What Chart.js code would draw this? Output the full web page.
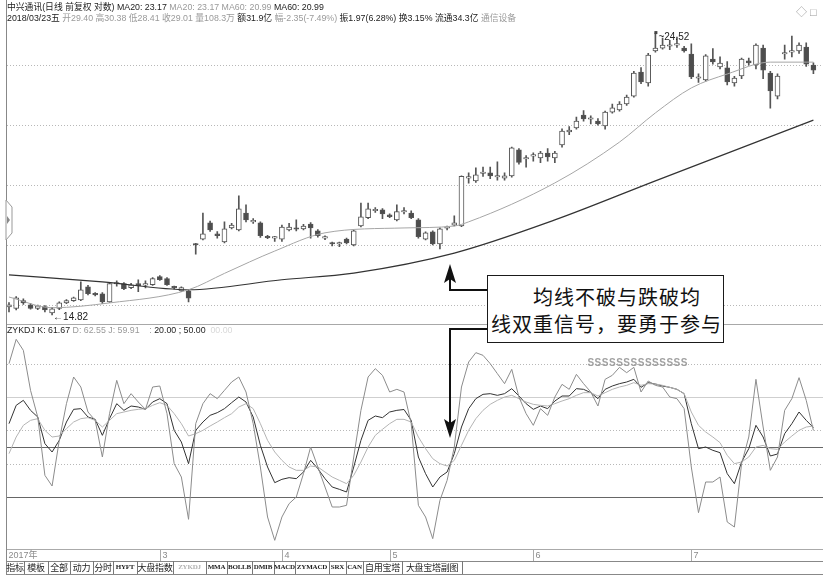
<!DOCTYPE html>
<html>
<head>
<meta charset="utf-8">
<script src="https://cdn.jsdelivr.net/npm/chart.js@4.4.0/dist/chart.umd.min.js"></script>
<style>
  body { margin: 0; background: #fff; width: 823px; height: 579px; overflow: hidden; position: relative;
         font-family: "Liberation Sans", "Noto Sans CJK SC", sans-serif; }
  canvas { position: absolute; left: 0; }
  .txt { position: absolute; white-space: nowrap; font-size: 8.8px; line-height: 11px; color: #222; }
  .g { color: #9a9a9a; }
  .f { color: #d8d8d8; }
  #note { position: absolute; left: 487px; top: 275px; width: 237px; height: 68px; box-sizing: border-box;
          border: 1.5px solid #1a1a1a; background: #fff; padding: 7px 0 0 3px;
          font-family: "Noto Sans CJK SC", sans-serif; font-size: 20px; line-height: 27px; letter-spacing: 1px; color: #111; }
  #note div:first-child { text-indent: 2.1em; }
  .hl { position: absolute; background: #a8a8a8; height: 1px; }
  .tb { position: absolute; top: 561px; height: 13px; border-right: 1px solid #777; box-sizing: border-box;
        white-space: nowrap; overflow: hidden; font-size: 9px; line-height: 13px; text-align: center; color: #222;
        font-family: "Noto Sans CJK SC", sans-serif; letter-spacing: -0.3px; }
  .tb.a { font-family: "Liberation Serif", serif; font-weight: bold; font-size: 7px; letter-spacing: -0.2px; }
</style>
</head>
<body>
<canvas id="price" width="823" height="326" style="top:0"></canvas>
<canvas id="kdj" width="823" height="236" style="top:326px"></canvas>

<div class="txt" style="left:7px;top:2px">中兴通讯(日线 前复权 对数) MA20: 23.17 <span class="g">MA20: 23.17 MA60: 20.99</span> MA60: 20.99</div>
<div class="txt" style="left:7px;top:13px">2018/03/23五 <span class="g">开29.40 高30.38 低28.41 收29.01 量108.3万</span> 额31.9亿 <span class="g">幅-2.35(-7.49%)</span> 振1.97(6.28%) 换3.15% 流通34.3亿 <span class="g">通信设备</span></div>
<div class="txt g" style="left:796px;top:7px;font-size:11px">◇ □</div>
<div class="txt" style="left:7px;top:325px">ZYKDJ K: 61.67 <span class="g">D: 62.55 J: 59.91</span> &nbsp; &nbsp;<span class="g">:</span> 20.00 ; 50.00 &nbsp;<span class="f">00.00</span></div>

<div class="hl" style="left:6px;top:324px;width:817px"></div>
<div class="hl" style="left:6px;top:561px;width:817px;background:#888"></div>
<div class="hl" style="left:6px;top:574px;width:817px;background:#888"></div>
<div style="position:absolute;left:6px;top:0;width:1px;height:575px;background:#888"></div>

<svg width="823" height="579" style="position:absolute;left:0;top:0;pointer-events:none">
  <polygon points="6,200 12,207 12,233 6,240" fill="#fff" stroke="#999" stroke-width="1"/>
  <polygon points="7,216 10,220 7,224" fill="#888"/>
  <polyline points="487,290 450,290 450,279" fill="none" stroke="#111" stroke-width="2"/>
  <polygon points="450,264 456,283 450,279 444,283" fill="#111"/>
  <polyline points="487,329 450,329 450,424" fill="none" stroke="#111" stroke-width="2"/>
  <polygon points="450,438 444,419 450,423 456,419" fill="#111"/>
</svg>

<div id="note"><div>均线不破与跌破均</div><div>线双重信号，要勇于参与</div></div>

<div id="toolbar"></div>

<script>
// ---- daily candles ----
const open = [15.03,14.99,15.20,15.09,14.99,15.04,14.87,14.99,15.14,15.20,15.22,15.58,15.37,15.39,15.17,15.66,15.67,15.56,15.67,15.63,
  15.64,15.87,15.81,15.56,15.47,15.47,16.82,16.97,17.47,17.13,16.88,17.31,17.25,17.78,17.50,17.47,17.05,17.00,16.97,17.25,
  17.30,17.28,17.43,17.22,17.00,16.85,16.82,16.97,16.79,17.37,17.63,17.85,17.88,17.72,17.56,17.81,17.78,17.56,16.97,17.19,
  16.82,17.30,17.40,17.37,18.92,18.83,19.08,19.10,18.96,18.92,19.00,19.90,19.58,19.68,19.62,19.79,19.62,20.08,20.55,20.70,
  21.18,21.02,20.95,20.77,21.29,21.37,21.60,21.91,22.87,22.43,23.75,23.87,23.95,24.00,23.87,23.62,22.62,22.55,23.41,23.08,
  23.04,22.43,22.71,23.33,23.16,23.87,22.83,21.91,23.62,23.70,23.75,23.91,23.16];
const high = [15.15,15.31,15.25,15.12,15.08,15.07,15.02,15.17,15.23,15.30,15.72,15.62,15.42,15.42,15.70,15.75,15.70,15.68,15.78,15.75,
  15.84,15.90,15.84,15.60,15.58,15.50,16.84,17.78,17.52,17.20,17.50,17.45,18.33,18.04,17.60,17.50,17.08,17.05,17.40,17.45,
  17.56,17.42,17.48,17.26,17.07,16.88,16.88,17.00,17.25,18.10,18.10,17.95,17.92,17.75,18.04,17.95,17.85,17.60,17.19,17.22,
  17.31,17.37,17.69,19.00,19.10,19.27,19.30,19.30,19.48,19.10,20.00,19.95,19.70,19.80,19.85,19.95,19.85,20.66,20.75,21.10,
  21.35,21.15,21.05,21.33,21.60,21.70,21.95,22.90,23.05,23.65,24.52,24.30,24.20,24.35,23.95,24.05,22.80,23.60,23.85,23.50,
  23.30,22.70,23.45,23.45,24.05,24.00,22.90,22.80,24.00,24.39,24.10,24.10,23.25];
const low = [14.90,14.95,15.10,14.97,14.96,14.90,14.82,14.96,15.12,15.18,15.20,15.36,15.33,15.12,15.15,15.60,15.50,15.53,15.45,15.55,
  15.62,15.76,15.62,15.52,15.45,15.17,16.52,16.94,17.20,17.00,16.85,17.28,17.22,17.50,17.45,17.02,16.98,16.90,16.90,17.22,
  17.22,17.25,17.00,17.03,16.95,16.76,16.74,16.82,16.76,17.34,17.60,17.80,17.60,17.63,17.53,17.75,17.60,17.00,16.94,16.79,
  16.67,17.25,17.37,17.35,18.75,18.78,18.98,18.90,18.85,18.85,18.95,19.40,19.30,19.50,19.45,19.50,19.45,20.00,20.45,20.65,
  20.95,20.85,20.80,20.65,21.25,21.33,21.55,21.87,22.40,22.30,23.70,23.82,23.80,23.90,23.70,22.60,22.45,22.50,23.20,23.00,
  22.35,22.30,22.60,23.15,23.00,22.60,21.44,21.80,23.40,23.50,23.65,23.10,22.80];
const close = [15.09,15.28,15.14,14.99,15.06,14.95,14.98,15.14,15.20,15.28,15.50,15.39,15.36,15.17,15.67,15.67,15.53,15.64,15.61,15.64,
  15.81,15.78,15.64,15.55,15.56,15.27,16.79,17.13,17.25,17.07,17.28,17.40,17.91,17.56,17.51,17.07,17.01,17.01,17.34,17.34,
  17.27,17.37,17.31,17.07,17.01,16.82,16.83,16.85,17.22,17.66,17.91,17.86,17.75,17.66,17.82,17.82,17.63,17.04,17.16,16.82,
  17.28,17.31,17.47,18.98,18.93,19.03,19.10,19.00,18.97,19.00,19.97,19.46,19.59,19.69,19.79,19.65,19.79,20.58,20.62,20.95,
  21.03,21.03,20.85,21.29,21.45,21.60,21.87,22.83,22.47,23.58,23.87,24.00,23.96,24.01,23.75,22.67,22.63,23.54,23.29,23.24,
  22.47,22.63,23.41,23.25,24.00,22.95,22.11,22.71,23.63,23.71,24.00,23.20,22.95];

// moving averages, read at a few candles along each curve
const ma20Idx = [0, 6, 14, 25, 30, 37, 44, 55, 62, 64, 76, 85, 90, 95, 100, 106, 112];
const ma20Val = [15.30, 15.01, 15.14, 15.50, 15.96, 16.61, 17.16, 17.31, 17.37, 17.50, 18.76, 20.18, 21.26, 22.23, 22.79, 23.28, 23.28];
const ma60Idx = [0, 13, 25, 38, 48, 62, 76, 90, 112];
const ma60Val = [15.92, 15.72, 15.50, 15.78, 15.97, 16.55, 17.56, 18.83, 20.99];

// price grid (dotted lines)
const gridPrices = [23.16, 20.81, 18.69, 16.79, 15.09];

// ---- ZYKDJ ----
const kdjK = [64,75,78,72,68,52,47,54,65,72.6,73,68,66.6,57,67,76,72,74.6,74,72.6,
  77,79,76,60,53,40,60,65,69,70.6,73,76.6,80,77,68,51,38,28.6,30.6,31.6,
  31,35,42,37,31,26,24.6,23,38,54,66,68.6,67.6,71,72,72.5,66,44,34,26,
  32,35,46,62,73,79,81.6,82,81,82,85,80.6,76,72.6,74.6,73,77.6,80.6,80.6,85,
  84.6,82.6,79,84.6,86.6,88,89,90.6,85.8,88.6,87.8,86.6,85.8,84.6,82,64,49,50,48,46.6,
  34,28,41,49,63,56,44.6,45.8,58,64,71,66,61.67];
const kdjD = [46,56,63,66,67,60,56,56.6,61,65,67,67.6,66,62,66,70,71,72,72.6,73,
  75,76.6,75,70,64,56.6,58,60,62.6,65,67.6,70,74,76,73,64,54,47,42,38,
  36,36,38.6,38,35,32,30,28,33,41,50,57,60.6,64,66.6,66.6,65,56,49,43,
  40,38.6,42,51,60,67,72,75.6,78,80,81,79,77,75.6,75,74.6,76,77.6,79,81,
  82.6,82.6,80.6,82.6,84.6,86,87,88.6,87,88,87.8,87,85.8,84.6,82,71,63,59,56,52.6,
  45,40,41,44,50,51,49,48.6,53,56.6,60,62,62.55];
const kdjJ = [100,114.6,108,84,68,33,26.6,54,76,92,86,71,66,44,70,90,76,82,77,72.6,
  86,86.6,70,40,32,6.6,64,76,82,79,84,89,92,83,64,38,8,-6,8,16,
  20,34,50,38,26,14,14,15,44,72,92,97,93,83,84.6,83,64,15,8,-5,
  18,30,50,86,101,106.6,105,100,94,88,96.6,80,70,63,73,69,80,87.6,84.6,93.6,
  88,83,74.6,90.6,93,97.8,94.6,97.8,83,89.6,87,86,80,79,73,38,10.6,29,29,32,
  5,2,40,56,90.6,62,36,44,72,79,91.6,78,59.91];
const kdjDotted = [100, 60, 40];
const kdjLight = [80];
const kdjSolid = [50, 20];
const signalIdx = [81, 82, 83, 84, 85, 86, 87, 88, 89, 90, 91, 92, 93, 94];

// bottom axis
const monthNames = ['2017年', '3', '4', '5', '6', '7'];
const monthStart = [0, 21, 38, 53, 73, 95];

// toolbar
const tbNames = ['指标','模板','全部','动力','分时','HYFT','大盘指数','ZYKDJ','MMA','BOLLB','DMIB','MACD','ZYMACD','SRX','CAN','自用宝塔','大盘宝塔副图'];
const tbEdges = [6, 24, 48, 70, 93, 113, 137, 173, 206, 227, 252, 274, 295, 329, 346, 363, 402, 462];

const labels = open.map((_, i) => String(i + 1));
const pad = { left: 5.4, right: 6 };
const common = {
  responsive: false,
  animation: false,
  events: [],
  plugins: { legend: { display: false }, tooltip: { enabled: false } }
};

const priceGrid = {
  id: 'priceGrid',
  beforeDatasetsDraw(chart) {
    const { ctx, scales: { y } } = chart;
    ctx.save();
    ctx.strokeStyle = '#b8b8b8';
    ctx.lineWidth = 1;
    ctx.setLineDash([1, 2]);
    gridPrices.forEach(p => {
      const py = Math.round(y.getPixelForValue(p)) + 0.5;
      ctx.beginPath(); ctx.moveTo(7, py); ctx.lineTo(823, py); ctx.stroke();
    });
    ctx.restore();
  }
};

const priceMarks = {
  id: 'priceMarks',
  afterDatasetsDraw(chart) {
    const { ctx, scales: { x, y } } = chart;
    const lowIdx = low.indexOf(Math.min(...low));
    const highIdx = high.indexOf(Math.max(...high));
    ctx.save();
    ctx.font = '10px "Liberation Sans", "DejaVu Sans", sans-serif';
    ctx.fillStyle = '#222';
    ctx.textBaseline = 'middle';
    const lx = x.getPixelForValue(lowIdx), ly = y.getPixelForValue(low[lowIdx]);
    ctx.fillText('←' + low[lowIdx].toFixed(2), lx + 1, ly + 2);
    const hx = x.getPixelForValue(highIdx), hy = y.getPixelForValue(high[highIdx]);
    ctx.fillStyle = '#444';
    ctx.fillRect(hx - 1, hy - 2, 3, 3);
    ctx.fillStyle = '#222';
    ctx.fillText('~' + high[highIdx].toFixed(2), hx + 3, hy + 4);
    ctx.restore();
  }
};

new Chart(document.getElementById('price'), {
  type: 'bar',
  data: {
    labels: labels,
    datasets: [
      {
        type: 'line', label: 'MA20',
        data: ma20Idx.map((k, j) => ({ x: labels[k], y: ma20Val[j] })),
        borderColor: '#a6a6a6', borderWidth: 1, pointRadius: 0, cubicInterpolationMode: 'monotone', order: 1
      },
      {
        type: 'line', label: 'MA60',
        data: ma60Idx.map((k, j) => ({ x: labels[k], y: ma60Val[j] })),
        borderColor: '#333', borderWidth: 1.2, pointRadius: 0, cubicInterpolationMode: 'monotone', order: 1
      },
      {
        label: 'wick',
        data: low.map((l, i) => [l, high[i]]),
        backgroundColor: '#555', barThickness: 1, grouped: false, order: 3
      },
      {
        label: 'body',
        data: open.map((o, i) => [o, close[i]]),
        backgroundColor: open.map((o, i) => close[i] >= o ? '#fff' : '#4d4d4d'),
        borderColor: '#555', borderWidth: 1, borderSkipped: false,
        barThickness: 5, minBarLength: 1.5, grouped: false, order: 2
      }
    ]
  },
  options: Object.assign({}, common, {
    layout: { padding: { left: pad.left, right: pad.right, top: 20, bottom: 2 } },
    scales: {
      x: { display: false, offset: true },
      y: { type: 'logarithmic', display: false, min: 14.58, max: 25.10 }
    }
  }),
  plugins: [priceGrid, priceMarks]
});

const kdjLines = {
  id: 'kdjLines',
  beforeDatasetsDraw(chart) {
    const { ctx, scales: { y } } = chart;
    ctx.save();
    ctx.lineWidth = 1;
    const hline = (v, color, dash) => {
      const py = Math.round(y.getPixelForValue(v)) + 0.5;
      ctx.strokeStyle = color; ctx.setLineDash(dash);
      ctx.beginPath(); ctx.moveTo(7, py); ctx.lineTo(823, py); ctx.stroke();
    };
    kdjDotted.forEach(v => hline(v, '#b8b8b8', [1, 2]));
    kdjLight.forEach(v => hline(v, '#cfcfcf', []));
    kdjSolid.forEach(v => hline(v, '#666', []));
    ctx.restore();
  },
  afterDatasetsDraw(chart) {
    const { ctx, scales: { x, y }, chartArea } = chart;
    ctx.save();
    ctx.font = 'bold 10px "Liberation Sans", sans-serif';
    ctx.fillStyle = '#a0a0a0';
    ctx.textAlign = 'center';
    ctx.textBaseline = 'middle';
    signalIdx.forEach(i => ctx.fillText('S', x.getPixelForValue(i), y.getPixelForValue(100)));
    // time axis row
    const ay = Math.round(chartArea.bottom) + 0.5;
    ctx.strokeStyle = '#aaa';
    ctx.setLineDash([]);
    ctx.beginPath(); ctx.moveTo(7, ay); ctx.lineTo(823, ay); ctx.stroke();
    ctx.font = '9px "Liberation Sans", "Noto Sans CJK SC", sans-serif';
    ctx.fillStyle = '#8a8a8a';
    ctx.textAlign = 'left';
    monthStart.forEach((i, k) => {
      const mx = k === 0 ? 6.5 : Math.round(x.getPixelForValue(i)) + 0.5;
      ctx.beginPath(); ctx.moveTo(mx, ay); ctx.lineTo(mx, ay + 12); ctx.stroke();
      ctx.fillText(monthNames[k], mx + 2, ay + 6);
    });
    ctx.restore();
  }
};

new Chart(document.getElementById('kdj'), {
  type: 'line',
  data: {
    labels: labels,
    datasets: [
      { label: 'J', data: kdjJ, borderColor: '#8c8c8c', borderWidth: 1, pointRadius: 0, tension: 0 },
      { label: 'D', data: kdjD, borderColor: '#b4b4b4', borderWidth: 1, pointRadius: 0, tension: 0 },
      { label: 'K', data: kdjK, borderColor: '#333', borderWidth: 1, pointRadius: 0, tension: 0 }
    ]
  },
  options: Object.assign({}, common, {
    layout: { padding: { left: pad.left, right: pad.right, top: 6, bottom: 13 } },
    scales: {
      x: { display: false, offset: true },
      y: { display: false, min: -11.2, max: 119 }
    }
  }),
  plugins: [kdjLines]
});

// toolbar buttons
const tb = document.getElementById('toolbar');
tbNames.forEach((name, i) => {
  const d = document.createElement('div');
  d.className = 'tb' + (/^[A-Z]+$/.test(name) ? ' a' : '');
  d.style.left = tbEdges[i] + 'px';
  d.style.width = (tbEdges[i + 1] - tbEdges[i] + 1) + 'px';
  if (name === 'ZYKDJ') d.style.color = '#b0b0b0';
  d.textContent = name;
  tb.appendChild(d);
});
</script>
</body>
</html>
